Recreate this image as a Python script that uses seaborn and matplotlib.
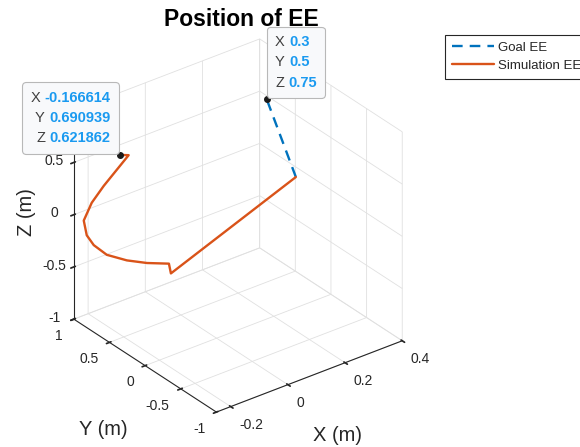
import numpy as np
import matplotlib
matplotlib.use("Agg")
import matplotlib.pyplot as plt
import seaborn as sns
from mpl_toolkits.mplot3d import proj3d
from matplotlib.offsetbox import TextArea, HPacker, VPacker, AnnotationBbox

# ---------------- data ----------------
goal_x = [0.377, 0.3]
goal_y = [0.40, 0.5]
goal_z = [-0.031, 0.75]

sim_x = [0.377, -0.1785, -0.1785, -0.188, -0.198, -0.2078, -0.2175, -0.224, -0.224,
         -0.2175, -0.198, -0.1785, -0.159, -0.166614]
sim_y = [0.40, -0.075, -0.047, 0.223, 0.465, 0.707, 0.851, 0.923, 0.965,
         0.879, 0.789, 0.686, 0.596, 0.690939]
sim_z = [-0.031, -0.159, -0.078, -0.182, -0.254, -0.298, -0.259, -0.190, -0.068,
         0.134, 0.315, 0.493, 0.654, 0.621862]

x_ticks = [-0.2, 0, 0.2, 0.4]
x_ticklabels = ["-0.2", "0", "0.2", "0.4"]
y_ticks = [-1, -0.5, 0, 0.5, 1]
y_ticklabels = ["-1", "-0.5", "0", "0.5", "1"]
z_ticks = [-1, -0.5, 0, 0.5, 1]
z_ticklabels = ["-1", "-0.5", "0", "0.5", "1"]
x_lim = (-0.25, 0.4)
y_lim = (-1, 1)
z_lim = (-1, 1)

series_labels = ["Goal EE", "Simulation EE"]
title = "Position of EE"
tips = [(-0.166614, 0.690939, 0.621862, ["-0.166614", "0.690939", "0.621862"]),
        (0.3, 0.5, 0.75, ["0.3", "0.5", "0.75"])]

# ---------------- style ----------------
sns.set_theme(style="white")
plt.rcParams["font.family"] = ["Liberation Sans", "DejaVu Sans"]
plt.rcParams["font.size"] = 10
plt.rcParams["axes.unicode_minus"] = False
plt.rcParams["grid.color"] = "#e0e0e0"
plt.rcParams["grid.linewidth"] = 0.6
palette = sns.color_palette(["#0072BD", "#D95319"])
dark = "#262626"

fig = plt.figure(figsize=(5.8, 4.47), dpi=100)
ax = fig.add_axes([0.0, -0.018, 0.8, 1.0], projection="3d")
ax.set_proj_type("ortho")
ax.view_init(elev=30, azim=-127.5)
ax.set_box_aspect((1, 1, 1.03), zoom=0.89)

ax.plot(goal_x, goal_y, goal_z, color=palette[0], lw=1.7, dashes=(4.5, 3),
        label=series_labels[0])
ax.plot(sim_x, sim_y, sim_z, color=palette[1], lw=1.7, label=series_labels[1])

ax.set_xlim(*x_lim)
ax.set_ylim(*y_lim)
ax.set_zlim(*z_lim)
ax.set_xticks(x_ticks)
ax.set_xticklabels(x_ticklabels)
ax.set_yticks(y_ticks)
ax.set_yticklabels(y_ticklabels)
ax.set_zticks(z_ticks)
ax.set_zticklabels(z_ticklabels)
ax.tick_params(labelsize=10, colors=dark, pad=2)
for t in ax.get_xticklabels():
    t.set_ha("left")
    t.set_va("center")
for t in ax.get_yticklabels():
    t.set_ha("right")
    t.set_va("center")
for t in ax.get_zticklabels():
    t.set_va("center")

for axis in (ax.xaxis, ax.yaxis, ax.zaxis):
    axis.set_pane_color((1, 1, 1, 0))
    axis.pane.set_edgecolor("#e0e0e0")
    axis.line.set_color(dark)
    axis.line.set_linewidth(0.8)
    axis.set_rotate_label(False)
ax.grid(True)

ax.set_xlabel("X (m)", fontsize=14.5, color=dark, rotation=0, labelpad=12)
ax.set_ylabel("Y (m)", fontsize=14.5, color=dark, rotation=0, labelpad=17)
ax.set_zlabel("Z (m)", fontsize=14.5, color=dark, rotation=90, labelpad=3)

ax.text2D(241 / 580, 1 - 26 / 447, title, transform=fig.transFigure, ha="center",
          va="baseline", fontsize=16.5, fontweight="bold", color="black", zorder=3)

leg = fig.legend(loc="upper left", bbox_to_anchor=(445 / 580, 1 - 35 / 447),
                 fontsize=9.5, frameon=True, fancybox=False, edgecolor=dark,
                 framealpha=1, handlelength=3.2, borderpad=0.5, labelspacing=0.45,
                 handletextpad=0.3, borderaxespad=0)
leg.get_frame().set_linewidth(0.8)

fig.canvas.draw()
M = ax.get_proj()
for i, (tx, ty, tz, vals) in enumerate(tips):
    ax.plot([tx], [ty], [tz], "o", color="#1a1a1a", ms=4, zorder=20)
    rows = []
    for lab, v in zip(["X", "Y", "Z"], vals):
        rows.append(HPacker(children=[TextArea(lab, textprops=dict(color="#404040", fontsize=10.5)),
                                      TextArea(v, textprops=dict(color="#1a9af0", fontsize=10.5,
                                                                  fontweight="bold"))],
                            pad=0, sep=3))
    box = VPacker(children=rows, align="right" if i == 0 else "left", pad=0, sep=4.5)
    x2, y2, _ = proj3d.proj_transform(tx, ty, tz, M)
    ab = AnnotationBbox(box, (x2, y2), xycoords="data",
                        box_alignment=(1, 0) if i == 0 else (0, 0),
                        xybox=(-6.8, 7.0) if i == 0 else (6.0, 7.0), boxcoords="offset points",
                        frameon=True,
                        bboxprops=dict(boxstyle="round,pad=0.55,rounding_size=0.25",
                                       fc="#f8f9fb", ec="#b8b8b8", lw=0.8))
    ab.set_zorder(30)
    ax.add_artist(ab)

fig.savefig("out.png", dpi=100)
